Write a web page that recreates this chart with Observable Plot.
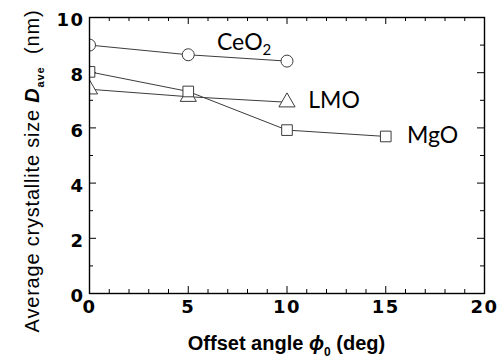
<!DOCTYPE html>
<html>
<head>
<meta charset="utf-8">
<script src="https://cdn.jsdelivr.net/npm/d3@7"></script>
<script src="https://cdn.jsdelivr.net/npm/@observablehq/plot@0.6"></script>
<style>
  html, body { margin: 0; padding: 0; background: #fff; }
  #chart svg { display: block; }
  g[aria-label$="tick label"] text { font-family: "DejaVu Sans"; font-weight: bold; font-size: 18px; letter-spacing: 1.5px; fill: #000; }
</style>
</head>
<body>
<div id="chart"></div>
<script>
// ---- data ----
const angle = [0, 5, 10, 15];
const ceo2 = [9.0, 8.65, 8.42];
const lmo = [7.4, 7.13, 6.93];
const mgo = [8.03, 7.32, 5.92, 5.69];

const xMajor = [0, 5, 10, 15, 20];
const xMinor = [1, 2, 3, 4, 6, 7, 8, 9, 11, 12, 13, 14, 16, 17, 18, 19];
const yMajor = [0, 2, 4, 6, 8, 10];
const yMinor = [1, 3, 5, 7, 9];

const seriesNames = ["CeO2", "LMO", "MgO"];
const seriesValues = [ceo2, lmo, mgo];
const seriesSymbols = ["circle", "triangle", "square"];

const rows = seriesNames.flatMap((name, i) =>
  seriesValues[i].map((v, j) => ({series: name, angle: angle[j], size: v, symbol: seriesSymbols[i]}))
);

const W = 504, H = 360;
const mL = 89, mR = 20, mT = 17, mB = 67;
const plotW = W - mL - mR, plotH = H - mT - mB;
const ink = "#3c3c3c";

const chart = Plot.plot({
  width: W, height: H,
  marginLeft: mL, marginRight: mR, marginTop: mT, marginBottom: mB,
  style: {background: "#fff", overflow: "visible"},
  x: {domain: [0, 20]},
  y: {domain: [0, 10]},
  marks: [
    Plot.axisX({ticks: xMajor, tickSize: 0, tickPadding: 7, label: null, tickFormat: d => d}),
    Plot.axisY({ticks: yMajor, tickSize: 0, tickPadding: 5, dy: 3, label: null, tickFormat: d => d}),
    Plot.tickX(xMajor, {x: d => d, insetTop: plotH - 7, stroke: "#000"}),
    Plot.tickX(xMinor, {x: d => d, insetTop: plotH - 4, stroke: "#000"}),
    Plot.tickX(xMajor, {x: d => d, insetBottom: plotH - 7, stroke: "#000"}),
    Plot.tickX(xMinor, {x: d => d, insetBottom: plotH - 4, stroke: "#000"}),
    Plot.tickY(yMajor, {y: d => d, insetRight: plotW - 7, stroke: "#000"}),
    Plot.tickY(yMinor, {y: d => d, insetRight: plotW - 4, stroke: "#000"}),
    Plot.tickY(yMajor, {y: d => d, insetLeft: plotW - 7, stroke: "#000"}),
    Plot.tickY(yMinor, {y: d => d, insetLeft: plotW - 4, stroke: "#000"}),
    Plot.line(rows, {x: "angle", y: "size", z: "series", stroke: ink, strokeWidth: 1, clip: true}),
    Plot.dot(rows, {x: "angle", y: "size", symbol: "symbol", r: 6, fill: "#fff", stroke: ink, strokeWidth: 1, clip: true}),
    Plot.frame({stroke: "#000", strokeWidth: 1.4})
  ]
});

document.getElementById("chart").appendChild(chart);

const svg = d3.select(chart);
const sx = chart.scale("x"), sy = chart.scale("y");

// series labels (placed in data coordinates)
const labels = [
  {parts: [["CeO", 0], ["2", 1]], x: 6.48, y: 8.8},
  {parts: [["LMO", 0]], x: 11.1, y: 6.72},
  {parts: [["MgO", 0]], x: 16.1, y: 5.42}
];
labels.forEach(l => {
  const t = svg.append("text")
    .attr("x", sx.apply(l.x)).attr("y", sy.apply(l.y))
    .attr("text-anchor", "start")
    .attr("font-family", "Lato").attr("font-size", 23).attr("fill", "#000");
  l.parts.forEach(([s, sub]) => {
    const ts = t.append("tspan").text(s);
    if (sub) ts.attr("font-size", 15).attr("dy", 5);
  });
});

// x axis title
const xt = svg.append("text")
  .attr("x", (mL + W - mR) / 2).attr("y", 350)
  .attr("text-anchor", "middle")
  .attr("font-family", "Liberation Sans").attr("font-weight", "bold").attr("font-size", 20).attr("fill", "#000");
xt.append("tspan").text("Offset angle ");
xt.append("tspan").text("\u03D5").attr("font-style", "italic");
xt.append("tspan").text("0").attr("font-size", 12).attr("dy", 6);
xt.append("tspan").text(" (deg)").attr("dy", -6);

// y axis title
const yt = svg.append("text")
  .attr("transform", "translate(39,171) rotate(-90)")
  .attr("text-anchor", "middle")
  .attr("font-family", "Liberation Sans").attr("font-size", 20).attr("letter-spacing", 0.8).attr("fill", "#000");
yt.append("tspan").text("Average crystallite size ");
yt.append("tspan").text("D").attr("font-style", "italic").attr("font-weight", "bold");
yt.append("tspan").text("ave").attr("font-size", 11).attr("font-weight", "bold").attr("dy", 5);
yt.append("tspan").text("  (nm)").attr("dy", -5);
</script>
</body>
</html>
